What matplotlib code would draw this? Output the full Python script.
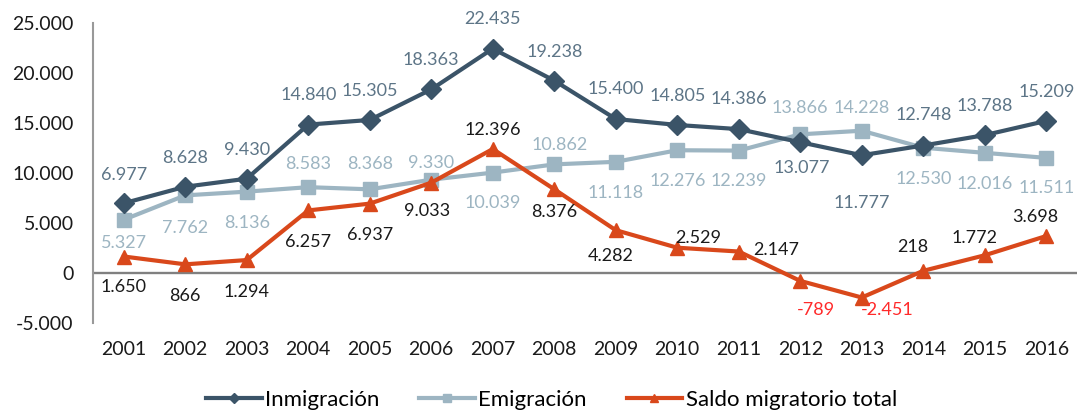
import matplotlib.pyplot as plt
import numpy as np

# data
years = [str(y) for y in range(2001, 2017)]
inmigracion = [6977, 8628, 9430, 14840, 15305, 18363, 22435, 19238,
               15400, 14805, 14386, 13077, 11777, 12748, 13788, 15209]
emigracion = [5327, 7762, 8136, 8583, 8368, 9330, 10039, 10862,
              11118, 12276, 12239, 13866, 14228, 12530, 12016, 11511]
saldo = [1650, 866, 1294, 6257, 6937, 9033, 12396, 8376,
         4282, 2529, 2147, -789, -2451, 218, 1772, 3698]

# label offsets from each point, in pixels (dx, dy), dy positive = down
off_inm = [(0, -28), (0, -29), (0, -29), (0, -30), (0, -29), (0, -29), (0, -30), (0, -29),
           (0, -30), (0, -29), (0, -30), (2, 26), (0, 48), (0, -31), (0, -29), (0, -29)]
off_emi = [(0, 23), (0, 33), (0, 31), (0, -23), (0, -25), (0, -17), (0, 30), (5, -19),
           (0, 31), (0, 31), (0, 30), (0, -26), (0, -23), (0, 31), (0, 31), (0, 30)]
off_sal = [(0, 31), (0, 32), (0, 32), (0, 32), (0, 31), (-4, 28), (0, -19), (0, 23),
           (-5, 26), (21, -10), (37, -2), (16, 29), (25, 12), (-10, -24), (-10, -17), (-11, -19)]

c_inm = '#3b5468'
c_inm_lbl = '#5d7587'
c_emi = '#9db5c2'
c_sal = '#d9481b'

plt.rcParams['font.family'] = ['Lato', 'DejaVu Sans']

fig = plt.figure(figsize=(10.77, 4.11), dpi=100)
ax = fig.add_axes([93 / 1077, 88 / 411, 1 - 93 / 1077, 300 / 411])

x = np.arange(len(years))
ax.plot(x, inmigracion, color=c_inm, lw=3, marker='D', ms=10, label='Inmigración', zorder=4)
ax.plot(x, emigracion, color=c_emi, lw=3, marker='s', ms=10, label='Emigración', zorder=3)
ax.plot(x, saldo, color=c_sal, lw=3, marker='^', ms=10, label='Saldo migratorio total', zorder=5)

px = 72 / 100  # pixels -> points


def fmt(v):
    return f'{v:,}'.replace(',', '.')


for vals, offs, col in [(inmigracion, off_inm, c_inm_lbl), (emigracion, off_emi, c_emi),
                        (saldo, off_sal, None)]:
    for i, (v, (dx, dy)) in enumerate(zip(vals, offs)):
        color = col if col else ('#ff2a2a' if v < 0 else '#1a1a1a')
        ax.annotate(fmt(v), (i, v), xytext=(dx * px, -dy * px), textcoords='offset points',
                    ha='center', va='center', fontsize=13, color=color, zorder=6)

ax.axhline(0, color='#808080', lw=1.7, zorder=2)
ax.set_xlim(-0.5, 15.5)
ax.set_ylim(-5000, 25000)
ax.set_yticks(range(-5000, 25001, 5000))
ax.set_yticklabels([fmt(v) for v in range(-5000, 25001, 5000)])
ax.set_xticks(x)
ax.set_xticklabels(years)
ax.tick_params(axis='y', length=0, pad=14, labelsize=14, labelcolor='#1a1a1a')
ax.tick_params(axis='x', length=0, pad=13, labelsize=14, labelcolor='#1a1a1a')

for s in ['top', 'right', 'bottom']:
    ax.spines[s].set_visible(False)
ax.spines['left'].set_color('#999999')
ax.spines['left'].set_linewidth(1.5)

fig.legend(loc='center', bbox_to_anchor=(0.512, 11 / 411), ncol=3, frameon=False,
           fontsize=16, handlelength=2.5, handletextpad=0.15, columnspacing=1.8,
           markerscale=0.55)

fig.savefig('out.png', dpi=100)
